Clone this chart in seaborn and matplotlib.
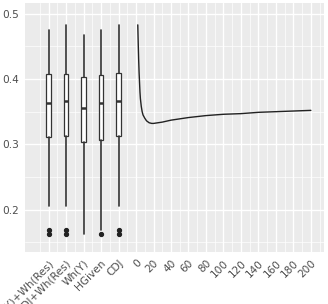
import numpy as np
import pandas as pd
import matplotlib
matplotlib.use("Agg")
import matplotlib.pyplot as plt
import seaborn as sns

# ---- data ----
categories = ["Wh(Y)+Wh(Res)", "CDJ+Wh(Res)", "Wh(Y)", "HGiven", "CDJ"]
cat_pos = [-100, -80, -60, -40, -20]
whislo = [0.205, 0.205, 0.163, 0.169, 0.205]
q1 = [0.311, 0.313, 0.304, 0.307, 0.313]
med = [0.364, 0.367, 0.356, 0.364, 0.367]
q3 = [0.408, 0.408, 0.403, 0.406, 0.410]
whishi = [0.475, 0.483, 0.468, 0.475, 0.483]
outliers = [[0.169, 0.162], [0.169, 0.162], [], [0.163], [0.169, 0.162]]

line_x = [2, 2.5, 3, 3.5, 4, 4.5, 5, 6, 7, 8, 10, 12, 15, 18, 20, 25, 30, 40, 50,
          60, 80, 100, 120, 140, 160, 180, 200]
line_y = [0.483, 0.455, 0.43, 0.41, 0.395, 0.38, 0.37, 0.358, 0.35, 0.345, 0.34,
          0.336, 0.333, 0.332, 0.332, 0.333, 0.334, 0.337, 0.339,
          0.341, 0.344, 0.346, 0.347, 0.349, 0.350, 0.351, 0.352]
num_ticks = [0, 20, 40, 60, 80, 100, 120, 140, 160, 180, 200]

# ---- style ----
sns.set_theme(style="darkgrid", rc={
    "axes.facecolor": "#EBEBEB",
    "grid.color": "white",
    "axes.edgecolor": "#EBEBEB",
})
plt.rcParams["font.family"] = ["DejaVu Sans"]

fig = plt.figure(figsize=(3.28, 3.04), dpi=100)
ax = fig.add_axes([25 / 328, 1 - 252 / 304, (324 - 25) / 328, (252 - 3) / 304])

# boxplots
stats = []
for i in range(len(categories)):
    stats.append(dict(med=med[i], q1=q1[i], q3=q3[i], whislo=whislo[i],
                      whishi=whishi[i], fliers=outliers[i], label=categories[i]))
ax.bxp(stats, positions=cat_pos, widths=5, showcaps=False, patch_artist=True,
       boxprops=dict(facecolor="white", edgecolor="#333333", linewidth=0.9),
       medianprops=dict(color="#333333", linewidth=1.8),
       whiskerprops=dict(color="#333333", linewidth=1.2),
       flierprops=dict(marker="o", markerfacecolor="#222222",
                       markeredgecolor="#222222", markersize=2.8))

# line
df = pd.DataFrame({"x": line_x, "y": line_y})
sns.lineplot(data=df, x="x", y="y", ax=ax, color="#222222", linewidth=1.0)

ax.set_xlim(-127, 215)
ax.set_ylim(0.135, 0.5165)
ax.set_xticks(cat_pos + num_ticks)
ax.set_xticklabels(categories + [str(t) for t in num_ticks], rotation=45,
                   ha="right", rotation_mode="anchor")
ax.set_yticks([0.2, 0.3, 0.4, 0.5])
ax.set_yticklabels(["0.2", "0.3", "0.4", "0.5"])
ax.set_xticks(np.arange(-110, 220, 20), minor=True)
ax.set_yticks([0.15, 0.25, 0.35, 0.45], minor=True)
ax.grid(which="major", color="white", linewidth=1.0)
ax.grid(which="minor", color="white", linewidth=0.5)
ax.tick_params(which="major", length=2.5, width=0.6, color="#333333",
               labelsize=7.6, labelcolor="#4D4D4D", pad=1.8)
ax.tick_params(which="minor", length=0)
ax.set_xlabel("")
ax.set_ylabel("")
for s in ax.spines.values():
    s.set_visible(False)

fig.savefig("out.png", dpi=100)
